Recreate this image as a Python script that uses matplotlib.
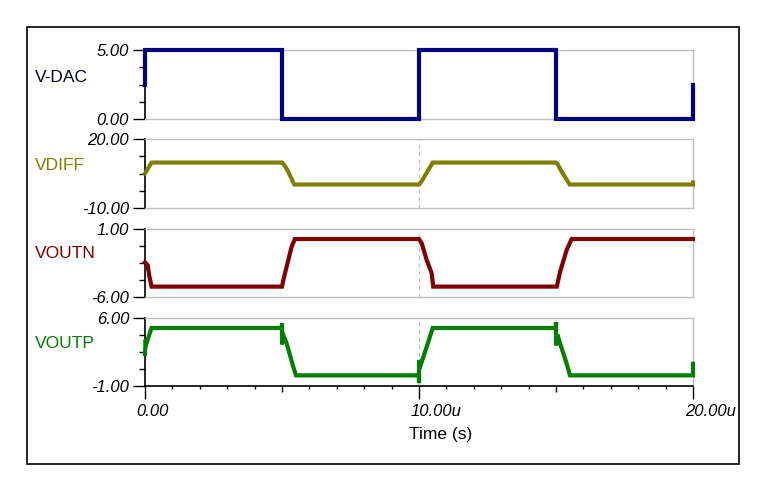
import matplotlib
matplotlib.use("Agg")
import matplotlib.pyplot as plt
import matplotlib.transforms as mtransforms
from matplotlib.patches import Rectangle

plt.rcParams['font.family'] = ['Liberation Sans', 'DejaVu Sans']

# time in microseconds
t_dac = [0, 0, 5, 5, 10, 10, 15, 15, 20, 20]
v_dac = [2.5, 5, 5, 0, 0, 5, 5, 0, 0, 2.5]

t_diff = [0, 0.24, 5.0, 5.05, 5.2, 5.45, 10.0, 10.1, 10.5, 15.0, 15.05, 15.2, 15.5, 20.0, 20.0]
v_diff = [5.1, 9.8, 9.8, 9.3, 6.5, 0.3, 0.3, 1.8, 9.8, 9.8, 9.3, 6.0, 0.3, 0.3, 1.2]

t_outn = [0, 0.1, 0.15, 0.24, 5.0, 5.05, 5.17, 5.35, 5.47, 10.0, 10.1, 10.28, 10.46, 10.52,
          15.03, 15.15, 15.39, 15.57, 20.0]
v_outn = [-2.4, -2.7, -3.7, -4.9, -4.9, -4.2, -2.85, -0.8, 0.0, 0.0, -0.44, -2.16, -3.5, -4.9,
          -4.9, -3.37, -1.13, 0.0, 0.0]

t_outp = [0, 0.02, 0.05, 0.24, 4.99, 5.0, 5.0, 5.05, 5.17, 5.41, 5.51,
          10.0, 10.0, 10.0, 10.04, 10.16, 10.4, 10.5,
          15.0, 15.0, 15.0, 15.05, 15.15, 15.39, 15.51, 20.0, 20.0]
v_outp = [2.3, 3.8, 3.4, 5.0, 5.0, 5.5, 3.3, 4.25, 3.4, 1.0, 0.1,
          0.1, -0.7, 1.7, 1.0, 2.0, 4.1, 5.0,
          5.0, 5.6, 3.2, 4.3, 3.4, 1.3, 0.1, 0.1, 1.3]

names = ['V-DAC', 'VDIFF', 'VOUTN', 'VOUTP']
colors = ['#000080', '#808000', '#800000', '#008000']
label_colors = ['#000020', '#808000', '#800000', '#008000']
ylims = [(0, 5), (-10, 20), (-6, 1), (-1, 6)]
series = [(t_dac, v_dac), (t_diff, v_diff), (t_outn, v_outn), (t_outp, v_outp)]
xticks = [0, 10, 20]
xticklabels = ['0.00', '10.00u', '20.00u']

W, H = 768, 493
fig = plt.figure(figsize=(W / 100, H / 100), dpi=100)

# panel extents in pixels (top, bottom)
panels = [(50, 119), (139, 208.3), (229.3, 297.3), (318.3, 386)]
x0, x1 = 145, 693
grey = '#c0c0c0'

# outer frame
fig.add_artist(Rectangle((27 / W, 1 - 464 / H), 712 / W, 437 / H, transform=fig.transFigure,
                         fill=False, edgecolor='black', linewidth=1.2))

label_y = [77, 166, 253, 344]
axes = []
for i, (top, bot) in enumerate(panels):
    ax = fig.add_axes([x0 / W, 1 - bot / H, (x1 - x0) / W, (bot - top) / H])
    axes.append(ax)
    t, v = series[i]
    ax.plot(t, v, color=colors[i], lw=3, clip_on=False, zorder=5, solid_joinstyle='miter')
    lo, hi = ylims[i]
    ax.set_xlim(0, 20)
    ax.set_ylim(lo, hi)
    ax.set_yticks([lo, hi])
    ax.set_yticklabels(['%.2f' % lo, '%.2f' % hi], fontstyle='italic', fontsize=12)
    ax.set_yticks([lo + (hi - lo) * k / 4 for k in (1, 2, 3)], minor=True)
    ax.tick_params(axis='y', which='major', direction='out', length=9, width=1, pad=2.5)
    ax.tick_params(axis='y', which='minor', direction='out', length=4.5, width=1)
    for s in ('top', 'right', 'bottom'):
        ax.spines[s].set_color(grey)
        ax.spines[s].set_linewidth(1)
    ax.spines['left'].set_linewidth(1.2)
    ax.axvline(10, color=grey, lw=0.9, ls=(0, (3, 3)), zorder=1)
    fig.text(35 / W, 1 - label_y[i] / H, names[i], color=label_colors[i], fontsize=12.5,
             ha='left', va='center')
    if i < 3:
        ax.set_xticks([])

ax = axes[-1]
ax.spines['bottom'].set_color('black')
ax.spines['bottom'].set_linewidth(1.2)
ax.set_xticks(xticks)
ax.set_xticklabels(xticklabels, fontstyle='italic', fontsize=12)
ax.set_xticks([k for k in range(21) if k % 5], minor=True)
ax.tick_params(axis='x', which='major', direction='out', length=9, width=1, pad=4)
ax.tick_params(axis='x', which='minor', direction='out', length=2.5, width=1)
off = mtransforms.ScaledTranslation(-6 / 72, 0, fig.dpi_scale_trans)
for lab in ax.get_xticklabels():
    lab.set_ha('left')
    lab.set_transform(lab.get_transform() + off)
sec = ax.secondary_xaxis('bottom')
sec.set_xticks([5, 15])
sec.set_xticklabels(['', ''])
sec.tick_params(axis='x', direction='out', length=4.5, width=1)
sec.spines['bottom'].set_visible(False)

ax.set_xlabel('Time (s)', fontsize=12.5, ha='left', va='center')
ax.xaxis.set_label_coords((409 - x0) / (x1 - x0), -(435 - 386) / (386 - 318.3))

fig.savefig('out.png', dpi=100)
